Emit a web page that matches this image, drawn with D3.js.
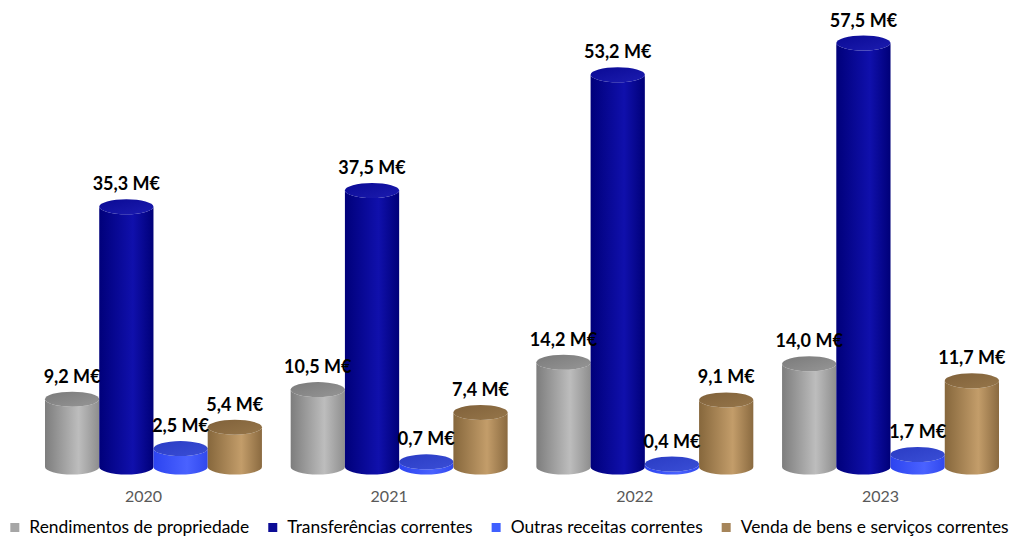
<!DOCTYPE html>
<html>
<head>
<meta charset="utf-8">
<script src="https://cdn.jsdelivr.net/npm/d3@7"></script>
<style>
  html, body { margin: 0; padding: 0; background: #fff; }
  svg { display: block; font-family: Lato, "Open Sans", sans-serif; }
</style>
</head>
<body>
<svg id="chart" width="1019" height="537"></svg>
<script>
// Receitas correntes por ano (milhões de euros)
const years = ["2020", "2021", "2022", "2023"];
const seriesNames = [
  "Rendimentos de propriedade",
  "Transferências correntes",
  "Outras receitas correntes",
  "Venda de bens e serviços correntes"
];
const rendimentos    = [9.2, 10.5, 14.2, 14.0];
const transferencias = [35.3, 37.5, 53.2, 57.5];
const outras         = [2.5, 0.7, 0.4, 1.7];
const vendas         = [5.4, 7.4, 9.1, 11.7];
const seriesValues = [rendimentos, transferencias, outras, vendas];

// colour sets: [left edge, highlight, right edge, top dark, top light, legend]
const palette = [
  ["#7d7d7d", "#bdbdbd", "#8e8e8e", "#7a7a7a", "#969696", "#a6a6a6"],
  ["#00007a", "#1010ac", "#000078", "#0a0a94", "#1c1cb0", "#0c0c96"],
  ["#2c44f0", "#4a62ff", "#3048ee", "#2a3cc4", "#3a4ed6", "#4060ff"],
  ["#86673c", "#c39d6a", "#8a6a40", "#80613a", "#96764a", "#a6855a"]
];

const svg = d3.select("#chart");
const W = 1019;

const x0 = d3.scaleBand().domain(years).range([45, 999]).paddingInner(0.117).paddingOuter(0);
const x1 = d3.scaleBand().domain(d3.range(seriesNames.length)).range([0, x0.bandwidth()]).padding(0);
const y = d3.scaleLinear().domain([0, 57.5]).range([467, 43]);

const ry = 7.5;

const defs = svg.append("defs");
palette.forEach((c, i) => {
  const g = defs.append("linearGradient").attr("id", "body" + i)
    .attr("x1", "0%").attr("x2", "100%").attr("y1", "0%").attr("y2", "0%");
  g.append("stop").attr("offset", "0%").attr("stop-color", c[0]);
  g.append("stop").attr("offset", "62%").attr("stop-color", c[1]);
  g.append("stop").attr("offset", "100%").attr("stop-color", c[2]);
  const t = defs.append("linearGradient").attr("id", "top" + i)
    .attr("x1", "0%").attr("x2", "100%").attr("y1", "0%").attr("y2", "100%");
  t.append("stop").attr("offset", "0%").attr("stop-color", c[3]);
  t.append("stop").attr("offset", "100%").attr("stop-color", c[4]);
});

// one record per cylinder
const bars = [];
years.forEach((yr, yi) => {
  seriesValues.forEach((vals, si) => {
    bars.push({ year: yr, s: si, v: vals[yi] });
  });
});

const cyl = svg.append("g").selectAll("g").data(bars).join("g");

cyl.each(function(d) {
  const g = d3.select(this);
  const left = x0(d.year) + x1(d.s);
  const w = x1.bandwidth();
  const rx = w / 2;
  const cx = left + rx;
  const yb = y(0);
  const yt = y(d.v);
  d.cx = cx; d.yt = yt;
  // side of the cylinder, closed by the front half of the base ellipse
  g.append("path")
    .attr("d", `M${left},${yt} L${left},${yb} A${rx},${ry} 0 0 0 ${left + w},${yb} L${left + w},${yt} A${rx},${ry} 0 0 1 ${left},${yt} Z`)
    .attr("fill", `url(#body${d.s})`);
  g.append("ellipse")
    .attr("cx", cx).attr("cy", yt).attr("rx", rx).attr("ry", ry)
    .attr("fill", `url(#top${d.s})`);
});

// value labels
svg.append("g").selectAll("text").data(bars).join("text")
  .attr("x", d => d.cx)
  .attr("y", d => d.yt - ry - 9)
  .attr("text-anchor", "middle")
  .attr("font-size", 18)
  .attr("font-weight", "bold")
  .attr("fill", "#000")
  .text(d => d3.format(".1f")(d.v).replace(".", ",") + " M€");

// category axis labels
svg.append("g").selectAll("text").data(years).join("text")
  .attr("x", d => x0(d) + x0.bandwidth() / 2 - 10)
  .attr("y", 502)
  .attr("text-anchor", "middle")
  .attr("font-size", 16)
  .attr("fill", "#595959")
  .text(d => d);

// legend, centred along the bottom edge
const legend = svg.append("g").attr("transform", "translate(0,533)");
const items = legend.selectAll("g").data(seriesNames).join("g");
items.append("rect").attr("x", 0).attr("y", -10).attr("width", 9).attr("height", 9)
  .attr("fill", (d, i) => palette[i][5]);
items.append("text").attr("x", 19).attr("y", 0)
  .attr("font-size", 17.4).attr("fill", "#000").text(d => d);
const gap = 19;
const widths = [];
items.each(function() { widths.push(19 + d3.select(this).select("text").node().getComputedTextLength()); });
const total = d3.sum(widths) + gap * (widths.length - 1);
let off = (W - total) / 2;
items.attr("transform", (d, i) => {
  const t = `translate(${off},0)`;
  off += widths[i] + gap;
  return t;
});
</script>
</body>
</html>
